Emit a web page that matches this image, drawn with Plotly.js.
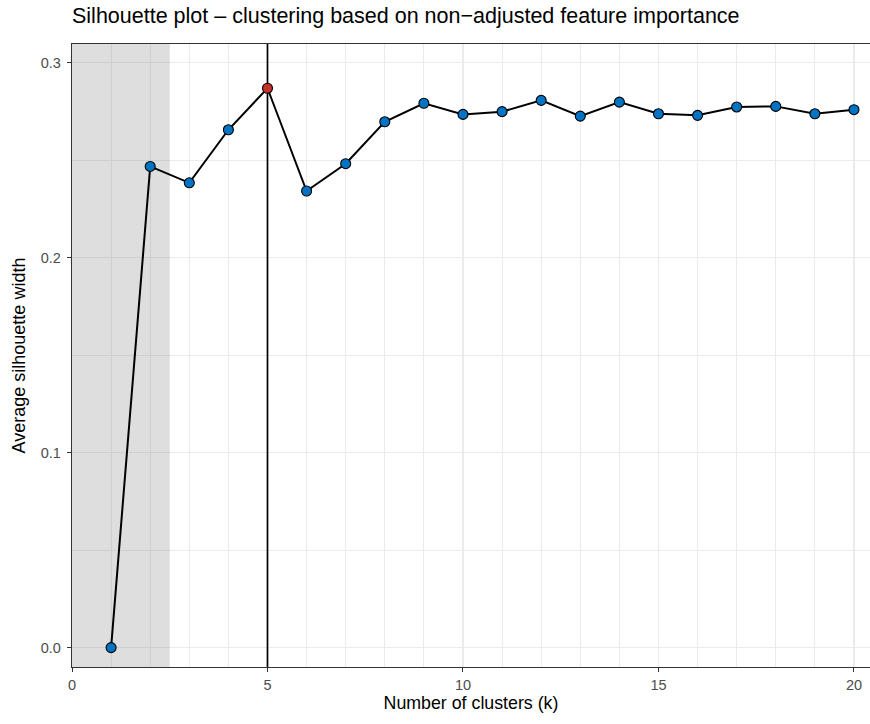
<!DOCTYPE html>
<html>
<head>
<meta charset="utf-8">
<script src="https://cdn.plot.ly/plotly-3.0.1.min.js"></script>
<style>html,body{margin:0;padding:0;background:#fff;}#chart{width:870px;height:724px;}</style>
</head>
<body>
<div id="chart"></div>
<script>
const clusters = [1,2,3,4,5,6,7,8,9,10,11,12,13,14,15,16,17,18,19,20];
const silhouette = [0.0,0.2468,0.2384,0.2656,0.2869,0.2342,0.2482,0.2697,0.2792,0.2735,0.2749,0.2807,0.2726,0.2798,0.2738,0.2730,0.2773,0.2776,0.2738,0.2759];
const optimalK = 5;
const shadeEnd = 2.5;
const xTickVals = [0,5,10,15,20];
const xTickText = ['0','5','10','15','20'];
const yTickVals = [0,0.1,0.2,0.3];
const yTickText = ['0.0','0.1','0.2','0.3'];
const titleText = "Silhouette plot \u2013 clustering based on non\u2212adjusted feature importance";
const xTitle = "Number of clusters (k)";
const yTitle = "Average silhouette width";

const xRange = [0, 20.41];
const yRange = [-0.00996, 0.3096];

const colors = clusters.map(k => k === optimalK ? '#C8302C' : '#0073C2');

const traces = [
  {x: [xRange[0], shadeEnd, shadeEnd, xRange[0]], y: [yRange[0], yRange[0], yRange[1], yRange[1]],
   type: 'scatter', mode: 'none', fill: 'toself', fillcolor: 'rgba(128,128,128,0.26)', hoverinfo: 'skip', showlegend: false},
  {x: [optimalK, optimalK], y: [yRange[0], yRange[1]], type: 'scatter', mode: 'lines',
   line: {color: '#000', width: 1.7}, hoverinfo: 'skip', showlegend: false},
  {x: clusters, y: silhouette, type: 'scatter', mode: 'lines', line: {color: '#000', width: 2}, hoverinfo: 'skip', showlegend: false},
  {x: clusters, y: silhouette, type: 'scatter', mode: 'markers',
   marker: {color: colors, size: 10, line: {color: '#000', width: 1.1}}, showlegend: false}
];

const font = 'Liberation Sans, Arial, sans-serif';
const layout = {
  width: 870, height: 724,
  margin: {l: 72, r: 0, t: 44, b: 57},
  paper_bgcolor: '#fff', plot_bgcolor: '#fff',
  font: {family: font, color: '#4D4D4D'},
  title: {text: titleText, x: 72/870, xanchor: 'left', y: 1 - 15/724, yanchor: 'middle', font: {family: font, size: 21.5, color: '#000'}},
  xaxis: {
    range: xRange, tickmode: 'array', tickvals: xTickVals, ticktext: xTickText,
    ticks: 'outside', ticklen: 4, tickwidth: 1, tickcolor: '#333',
    tickfont: {size: 14.5, color: '#4D4D4D'},
    showline: true, linecolor: '#333', linewidth: 1.2, mirror: true,
    showgrid: true, gridcolor: '#EBEBEB', gridwidth: 1.4, zeroline: false,
    minor: {dtick: 1, showgrid: true, gridcolor: '#EBEBEB', gridwidth: 1},
    title: {text: xTitle, font: {size: 17.8, color: '#000'}, standoff: 4}
  },
  yaxis: {
    range: yRange, tickmode: 'array', tickvals: yTickVals, ticktext: yTickText,
    ticks: 'outside', ticklen: 4, tickwidth: 1, tickcolor: '#333',
    tickfont: {size: 14.5, color: '#4D4D4D'}, ticklabelstandoff: 3,
    showline: true, linecolor: '#333', linewidth: 1.2, mirror: true,
    showgrid: true, gridcolor: '#EBEBEB', gridwidth: 1.4, zeroline: false,
    minor: {dtick: 0.05, showgrid: true, gridcolor: '#EBEBEB', gridwidth: 1},
    title: {text: yTitle, font: {size: 18, color: '#000'}, standoff: 10}
  }
};

Plotly.newPlot('chart', traces, layout, {displayModeBar: false, staticPlot: true});
</script>
</body>
</html>
